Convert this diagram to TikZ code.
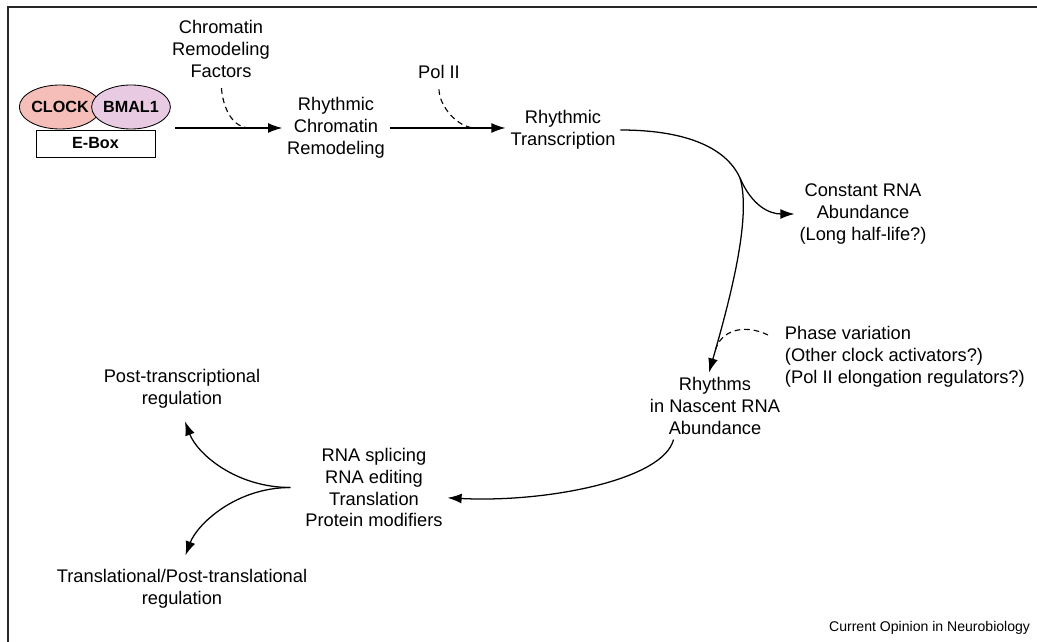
\documentclass[tikz,border=0pt]{standalone}
\usepackage{fontspec}
\setmainfont{Liberation Sans}
\usetikzlibrary{arrows.meta,shapes.geometric}
\definecolor{ClockPink}{HTML}{F5BEB9}
\definecolor{BmalMauve}{HTML}{E8CAE3}

\begin{document}
\begin{tikzpicture}[x=0.025cm, y=-0.025cm,
  every node/.style={font=\fontsize{13}{15.6}\selectfont, align=center},
  arr/.style={-{Latex[length=10pt,width=7pt]}, line width=0.9pt},
  cofactor/.style={line width=0.8pt, dash pattern=on 4pt off 2.8pt, shorten <=4pt},
  protein/.style={ellipse, draw, line width=0.6pt, inner sep=0pt, minimum height=1.1cm,
    font=\bfseries\fontsize{11.5}{14}\selectfont}]
\useasboundingbox (0,0) rectangle (1037,642);
\draw[line width=1pt, black!85] (8,642) -- (8,7) -- (1037,7);

% clock complex on the E-box
\node[protein, fill=ClockPink, minimum width=1.85cm] (clock) at (60,107) {CLOCK};
\node[protein, fill=BmalMauve, minimum width=1.775cm] (bmal) at (131,107) {BMAL1};
\node[draw, line width=0.6pt, minimum width=2.975cm, minimum height=0.675cm, inner sep=0pt,
  font=\bfseries\fontsize{11.5}{14}\selectfont] (ebox) at (95.5,143.5) {E-Box};

\node (factors) at (221,49) {Chromatin\\Remodeling\\Factors};
\node (remod) at (336,128) {Rhythmic\\Chromatin\\Remodeling};
\node (pol) at (439,72) {Pol II};
\node (trans) at (563,130) {Rhythmic\\Transcription};
\node (const) at (863,214) {Constant RNA\\Abundance\\(Long half-life?)};
\node[align=left, anchor=west] (phase) at (780,357) {Phase variation\\(Other clock activators?)\\(Pol II elongation regulators?)};
\node (nascent) at (715,406) {Rhythms\\in Nascent RNA\\Abundance};
\node (splice) at (374,487.5) {RNA splicing\\RNA editing\\Translation\\Protein modifiers};
\node (post) at (182,389) {Post-transcriptional\\regulation};
\node (transl) at (182,589) {Translational/Post-translational\\regulation};
\node[anchor=east, font=\fontsize{10}{12}\selectfont] (credit) at (1035,628) {Current Opinion in Neurobiology};

\coordinate (start) at (175,128);
\coordinate (fork) at (740,178);
\coordinate (fork2) at ([xshift=-0.25cm]splice.west);

% transcription steps
\draw[arr] (start) -- coordinate[pos=0.7] (j1) (remod);
\draw[arr] (remod.east) -- coordinate[pos=0.74] (j2) (remod.east -| trans.west);
\draw[cofactor] (factors.south) .. controls +(2,25) and +(-18,0) .. (j1);
\draw[cofactor] (pol.south) .. controls +(0,22) and +(-18,0) .. (j2);

% RNA fates
\draw[arr] (trans.east) .. controls +(60,0) and +(-15,-33) .. (fork)
  .. controls +(12,40) and +(20,-70) .. coordinate[pos=0.9] (j3) (nascent.100);
\draw[arr] (fork) .. controls +(12,28) and +(-25,0) .. (const.west);
\draw[cofactor, shorten <=0pt] ([xshift=-0.3cm]phase.170) .. controls +(-25,-12) and +(5,-20) .. (j3);
\draw[arr] (nascent.219) .. controls +(-10,40) and +(100,5) .. (splice.-8);
\draw[arr, shorten >=6pt] (fork2) .. controls +(-55,0) and +(15,40) .. (post.south);
\draw[arr, shorten >=7pt] (fork2) .. controls +(-55,0) and +(15,-40) .. (transl.north);
\end{tikzpicture}
\end{document}
